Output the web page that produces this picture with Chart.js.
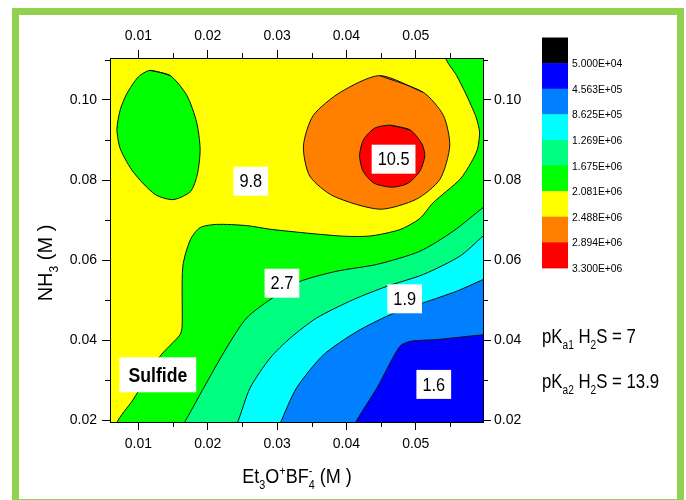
<!DOCTYPE html>
<html>
<head>
<meta charset="utf-8">
<script src="https://cdn.jsdelivr.net/npm/chart.js@4"></script>
<style>
  html, body { margin: 0; padding: 0; background: #fff; }
  #wrap { width: 686px; height: 500px; }
</style>
</head>
<body>
<div id="wrap"><canvas id="mapa"></canvas></div>
<script>
// --- Axes ---
const xMin = 0.0059, xMax = 0.0597;
const yMin = 0.0195, yMax = 0.1105;
const xTicks = [0.01, 0.02, 0.03, 0.04, 0.05];
const yTicks = [0.02, 0.04, 0.06, 0.08, 0.10];
const xMinor = [0.015, 0.025, 0.035, 0.045, 0.055];
const yMinor = [0.03, 0.05, 0.07, 0.09, 0.11];

// --- Colour scale (top to bottom of the bar) ---
const levelColors = ['#000000', '#0000ff', '#0080ff', '#00ffff', '#00ff80', '#00ff00', '#ffff00', '#ff8000', '#ff0000'];
const levelLabels = ['5.000E+04', '4.563E+05', '8.625E+05', '1.269E+06', '1.675E+06', '2.081E+06', '2.488E+06', '2.894E+06', '3.300E+06'];

// --- Contour lines, [Et3O+BF4- (M), NH3 (M)] ---
const lineYellowGreen = [
  [0.0060, 0.0100], [0.0069, 0.0193], [0.0092, 0.0250], [0.0131, 0.0359], [0.0160, 0.0413], [0.0163, 0.0434],
  [0.0164, 0.0584], [0.0175, 0.0651], [0.0189, 0.0681], [0.0213, 0.0689], [0.0256, 0.0686], [0.0294, 0.0676],
  [0.0391, 0.0660], [0.0434, 0.0660], [0.0477, 0.0676], [0.0506, 0.0704], [0.0525, 0.0743], [0.0564, 0.0802],
  [0.0580, 0.0844], [0.0589, 0.0877], [0.0592, 0.0920], [0.0587, 0.0957], [0.0580, 0.0986], [0.0571, 0.1020],
  [0.0559, 0.1061], [0.0544, 0.1111]
];
const lineGreenSpring = [
  [0.0130, 0.0100], [0.0165, 0.0190], [0.0194, 0.0280], [0.0227, 0.0380], [0.0256, 0.0455], [0.0290, 0.0501],
  [0.0331, 0.0545], [0.0386, 0.0572], [0.0444, 0.0589], [0.0506, 0.0622], [0.0554, 0.0672], [0.0597, 0.0731],
  [0.0650, 0.0800]
];
const lineSpringCyan = [
  [0.0215, 0.0100], [0.0242, 0.0190], [0.0261, 0.0280], [0.0290, 0.0355], [0.0319, 0.0405], [0.0357, 0.0455],
  [0.0410, 0.0501], [0.0458, 0.0534], [0.0511, 0.0564], [0.0564, 0.0610], [0.0597, 0.0660], [0.0650, 0.0740]
];
const lineCyanBlue = [
  [0.0280, 0.0100], [0.0304, 0.0190], [0.0328, 0.0280], [0.0367, 0.0363], [0.0415, 0.0421], [0.0463, 0.0463],
  [0.0511, 0.0493], [0.0559, 0.0522], [0.0597, 0.0551], [0.0650, 0.0590]
];
const lineBlueDark = [
  [0.0390, 0.0100], [0.0412, 0.0190], [0.0444, 0.0280], [0.0477, 0.0384], [0.0493, 0.0397], [0.0530, 0.0401],
  [0.0597, 0.0413], [0.0650, 0.0420]
];
// closed loops
const loopGreen = [
  [0.0117, 0.1074], [0.0146, 0.1061], [0.0170, 0.1011], [0.0184, 0.0944], [0.0189, 0.0877], [0.0185, 0.0814],
  [0.0175, 0.0771], [0.0150, 0.0751], [0.0124, 0.0764], [0.0093, 0.0819], [0.0074, 0.0877], [0.0069, 0.0927],
  [0.0074, 0.0977], [0.0083, 0.1015], [0.0100, 0.1058]
];
const loopOrange = [
  [0.0448, 0.1061], [0.0511, 0.1019], [0.0540, 0.0961], [0.0549, 0.0885], [0.0535, 0.0802], [0.0501, 0.0752],
  [0.0448, 0.0727], [0.0381, 0.0760], [0.0347, 0.0810], [0.0338, 0.0885], [0.0352, 0.0961], [0.0391, 0.1019]
];
const loopRed = [
  [0.0463, 0.0937], [0.0492, 0.0925], [0.0509, 0.0890], [0.0513, 0.0860], [0.0506, 0.0822], [0.0489, 0.0792],
  [0.0466, 0.0782], [0.0440, 0.0792], [0.0424, 0.0822], [0.0419, 0.0862], [0.0425, 0.0902], [0.0441, 0.0930]
];

// --- Labels on the map ---
const labelTexts = ['10.5', '9.8', '2.7', '1.9', '1.6', 'Sulfide'];
const labelX = [0.0468, 0.0262, 0.0307, 0.0484, 0.0526, 0.0128];
const labelY = [0.0852, 0.0797, 0.0542, 0.0503, 0.0289, 0.0313];

const FONT = "'Liberation Sans', Arial, sans-serif";

// close a loop smoothly: go round once more up to the second point
const closeLoop = pts => pts.concat([pts[0], pts[1]]);

// polygons are closed just outside the axes so the edges get clipped
const outX0 = 0.004, outX = 0.065, outY0 = 0.01, outY1 = 0.12;
const layers = [
  { c: 6, pts: [[outX0, outY0], [outX, outY0], [outX, outY1], [outX0, outY1]], edge: false },
  { c: 5, pts: lineYellowGreen.concat([[outX, outY1], [outX, outY0]]) },
  { c: 4, pts: lineGreenSpring.concat([[outX, outY0]]) },
  { c: 3, pts: lineSpringCyan.concat([[outX, outY0]]) },
  { c: 2, pts: lineCyanBlue.concat([[outX, outY0]]) },
  { c: 1, pts: lineBlueDark.concat([[outX, outY0]]) },
  { c: 5, pts: closeLoop(loopGreen) },
  { c: 7, pts: closeLoop(loopOrange) },
  { c: 8, pts: closeLoop(loopRed) }
];

const datasets = layers.map(l => ({
  data: l.pts.map(p => ({ x: p[0], y: p[1] })),
  showLine: true,
  fill: 'shape',
  backgroundColor: levelColors[l.c],
  borderColor: '#111',
  borderWidth: l.edge === false ? 0 : 1,
  pointRadius: 0,
  tension: 0.25,
  clip: 0
})).reverse(); // dataset 0 is painted last

// --- Helpers ---
// text with sub/superscripts, squeezed sideways like the original figure
function drawRich(ctx, parts, x, y, size, align, squeeze) {
  const big = size + 'px ' + FONT;
  const small = Math.round(size * 0.62) + 'px ' + FONT;
  let w = 0;
  parts.forEach(p => { ctx.font = p.s ? small : big; if (!p.keep) w += ctx.measureText(p.t).width; });
  ctx.save();
  ctx.translate(x, y);
  ctx.scale(squeeze, 1);
  let cx = align === 'center' ? -w / 2 : 0;
  ctx.textAlign = 'left';
  ctx.textBaseline = 'alphabetic';
  parts.forEach(p => {
    ctx.font = p.s ? small : big;
    const dy = p.s === 'sub' ? size * 0.28 : p.s === 'sup' ? -size * 0.42 : 0;
    ctx.fillText(p.t, cx, dy);
    if (!p.keep) cx += ctx.measureText(p.t).width;
  });
  ctx.restore();
}

const frame = {
  id: 'frame',
  beforeDraw(chart) {
    const ctx = chart.ctx;
    ctx.save();
    ctx.fillStyle = '#fff';
    ctx.fillRect(0, 0, chart.width, chart.height);
    ctx.strokeStyle = '#92d050';
    ctx.lineWidth = 7;
    ctx.strokeRect(15.5, 11.5, 665, 491);
    ctx.restore();
  }
};

const extras = {
  id: 'extras',
  afterDraw(chart) {
    const { ctx, chartArea: a, scales } = chart;
    ctx.save();

    // minor ticks
    ctx.strokeStyle = '#000';
    ctx.lineWidth = 1;
    ctx.beginPath();
    xMinor.forEach(v => {
      const px = Math.round(scales.x.getPixelForValue(v)) + 0.5;
      ctx.moveTo(px, a.bottom); ctx.lineTo(px, a.bottom + 5);
      ctx.moveTo(px, a.top); ctx.lineTo(px, a.top - 5);
    });
    yMinor.forEach(v => {
      const py = Math.round(scales.y.getPixelForValue(v)) + 0.5;
      ctx.moveTo(a.left, py); ctx.lineTo(a.left - 5, py);
      ctx.moveTo(a.right, py); ctx.lineTo(a.right + 5, py);
    });
    ctx.stroke();

    // labels on the map
    labelTexts.forEach((t, i) => {
      const bold = t === 'Sulfide';
      const sq = bold ? 0.84 : 0.86;
      ctx.font = (bold ? 'bold 21px ' : '19px ') + FONT;
      const tw = ctx.measureText(t).width * sq;
      const w = tw + (bold ? 18 : 12);
      const h = bold ? 35 : 29;
      const px = scales.x.getPixelForValue(labelX[i]);
      const py = scales.y.getPixelForValue(labelY[i]);
      ctx.fillStyle = '#fff';
      ctx.fillRect(px - w / 2, py - h / 2, w, h);
      ctx.fillStyle = '#000';
      ctx.save();
      ctx.translate(px, py + 1);
      ctx.scale(sq, 1);
      ctx.textAlign = 'center';
      ctx.textBaseline = 'middle';
      ctx.fillText(t, 0, 0);
      ctx.restore();
    });

    // colour bar
    const bx = 542, by = 37.5, bw = 26, bh = 25.6;
    levelColors.forEach((c, i) => {
      ctx.fillStyle = c;
      ctx.fillRect(bx, by + i * bh, bw, bh + 0.5);
    });
    ctx.fillStyle = '#000';
    levelLabels.forEach((t, i) => drawRich(ctx, [{ t: t }], bx + 30, by + (i + 1) * bh + 4, 11.5, 'left', 0.9));

    // pKa notes
    drawRich(ctx, [{ t: 'pK' }, { t: 'a1', s: 'sub' }, { t: ' H' }, { t: '2', s: 'sub' }, { t: 'S = 7' }], 542, 343, 20, 'left', 0.84);
    drawRich(ctx, [{ t: 'pK' }, { t: 'a2', s: 'sub' }, { t: ' H' }, { t: '2', s: 'sub' }, { t: 'S = 13.9' }], 542, 388, 20, 'left', 0.84);

    // axis titles
    drawRich(ctx, [{ t: 'Et' }, { t: '3', s: 'sub' }, { t: 'O' }, { t: '+', s: 'sup' }, { t: 'BF' },
      { t: '-', s: 'sup', keep: true }, { t: '4', s: 'sub' }, { t: ' (M )' }], 297, 483, 20, 'center', 0.9);
    ctx.translate(45, 263);
    ctx.rotate(-Math.PI / 2);
    drawRich(ctx, [{ t: 'NH' }, { t: '3', s: 'sub' }, { t: ' (M )' }], 0, 7, 20, 'center', 1);

    ctx.restore();
  }
};

// --- Scales ---
function axis(pos, min, max, ticks, pad, size) {
  return {
    type: 'linear',
    position: pos,
    min: min,
    max: max,
    afterBuildTicks: s => { s.ticks = ticks.map(v => ({ value: v })); },
    afterFit: s => {
      if (pos === 'left' || pos === 'right') s.width = size; else s.height = size;
    },
    ticks: {
      color: '#000',
      padding: pad,
      font: { size: 14, family: FONT },
      callback: v => v.toFixed(2),
      maxRotation: 0,
      autoSkip: false
    },
    grid: { drawOnChartArea: false, drawTicks: true, tickLength: 8, tickColor: '#000' },
    border: { display: true, color: '#000', width: 1, z: 1 }
  };
}

new Chart(document.getElementById('mapa'), {
  type: 'scatter',
  data: { datasets: datasets },
  options: {
    responsive: true,
    maintainAspectRatio: false,
    animation: false,
    events: [],
    layout: { padding: { left: 30, right: 153, top: 13, bottom: 38 } },
    plugins: { legend: { display: false }, tooltip: { enabled: false } },
    scales: {
      x: axis('bottom', xMin, xMax, xTicks, 6, 40),
      x2: axis('top', xMin, xMax, xTicks, 5, 45),
      y: axis('left', yMin, yMax, yTicks, 5, 80),
      y2: axis('right', yMin, yMax, yTicks, 3, 50)
    }
  },
  plugins: [frame, extras]
});
</script>
</body>
</html>
